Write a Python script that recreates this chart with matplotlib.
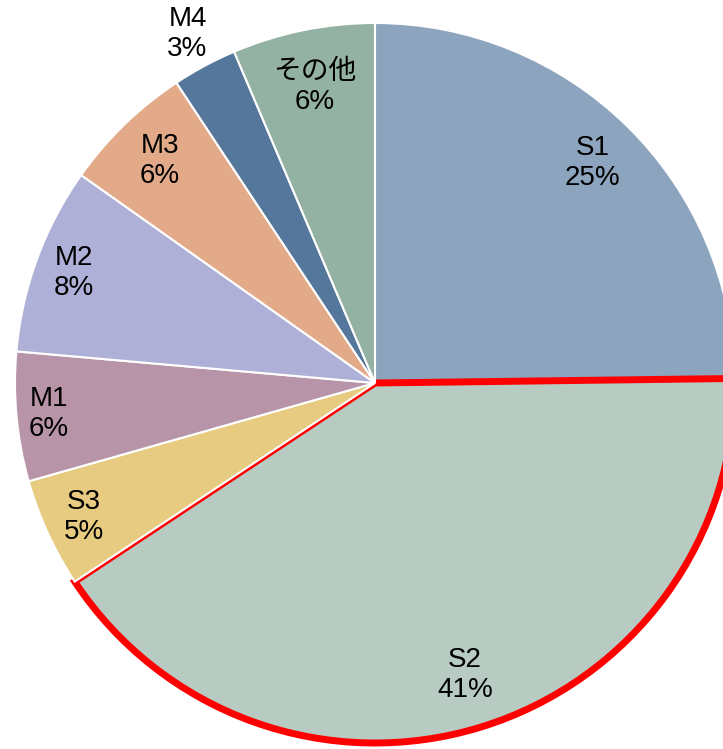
import numpy as np
import matplotlib
matplotlib.use("Agg")
import matplotlib.pyplot as plt

plt.rcParams['font.family'] = ['Liberation Sans', 'Noto Sans CJK JP', 'DejaVu Sans']

# wedge shares (%), clockwise from 12 o'clock
labels = ["S1", "S2", "S3", "M1", "M2", "M3", "M4", "その他"]
values = [24.8, 40.9, 4.9, 5.8, 8.4, 5.9, 2.9, 6.4]
colors = ["#8DA4BE", "#B8CBC3", "#E6CB80", "#B794A7",
          "#AFB0D7", "#E3AA89", "#55779C", "#94B2A3"]
label_dist = [0.86, 0.85, 0.89, 0.91, 0.89, 0.86, 1.10, 0.84]

W, H = 723, 749
cx, cy, R = 375, 383, 360

fig = plt.figure(figsize=(W / 100, H / 100), dpi=100)
ax = fig.add_axes([0, 0, 1, 1])

wedges, _ = ax.pie(values, colors=colors, startangle=90, counterclock=False,
                   radius=R, center=(0, 0), frame=True,
                   wedgeprops=dict(edgecolor="white", linewidth=1.5))
ax.set_xlim(-cx, W - cx)
ax.set_ylim(-(H - cy), cy)
ax.set_aspect("equal")
ax.axis("off")

# highlighted wedge
wedges[1].set_edgecolor("#FF0000")
wedges[1].set_linewidth(5)

total = sum(values)
for w, lab, v, d in zip(wedges, labels, values, label_dist):
    mid = np.deg2rad((w.theta1 + w.theta2) / 2)
    x = d * R * np.cos(mid)
    y = d * R * np.sin(mid)
    ax.text(x, y, f"{lab}\n{v / total * 100:.0f}%", ha="center", va="center",
            fontsize=20, linespacing=1.2, color="black")

fig.savefig("out.png", dpi=100)
